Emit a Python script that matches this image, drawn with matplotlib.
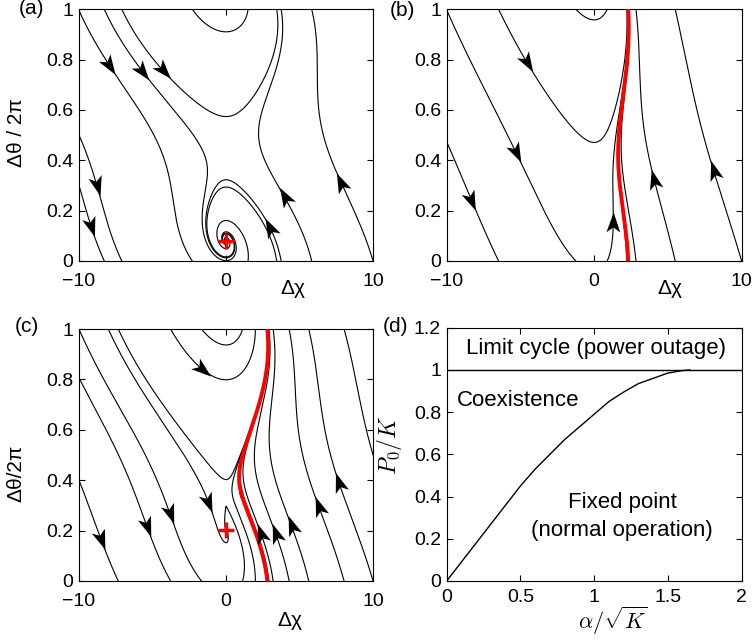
import math
import numpy as np
import matplotlib
matplotlib.use("Agg")
import matplotlib.pyplot as plt
from matplotlib.markers import MarkerStyle
from matplotlib.path import Path
from matplotlib.transforms import Affine2D
from matplotlib.ticker import FuncFormatter

plt.rcParams['font.family'] = ['Liberation Sans', 'DejaVu Sans']
plt.rcParams['mathtext.fontset'] = 'cm'

# swing equation  d(theta)/dt = chi,  d(chi)/dt = P - alpha*chi - K*sin(theta)
power = 2.0
damping = 1.0
coupling_a = 4.15
coupling_b = 0.8
coupling_c = 2.1

# starting points of the plotted trajectories (chi, theta/2pi, backward time)
starts_a = [(-10, 0.995, 0), (-10, 0.5, 0), (-10, 0.3, 0), (10, 0.0, 0)]
starts_b = [(-10, 0.997, 0), (-10, 0.474, 0), (10, 0.0, 0)]
starts_c = [(-10, 0.999, 0), (-10, 0.806, 0), (-10, 0.4, 0), (10, 0.0, 0),
            (10, 0.5, 0), (-1.21, 0.315, 5.0)]

# arrow positions along the trajectories
arrows_a = [(-7.89, 0.779), (-5.74, 0.752), (-4.27, 0.759), (-8.69, 0.302),
            (-9.25, 0.136), (2.98, 0.13), (4.11, 0.256), (7.96, 0.315)]
arrows_b = [(-4.58, 0.792), (-5.25, 0.434), (-8.42, 0.242), (1.3, 0.15),
            (4.0, 0.322), (8.19, 0.362)]
arrows_c = [(-1.66, 0.837), (-1.21, 0.315), (-3.82, 0.269), (-5.51, 0.216),
            (-8.57, 0.163), (2.52, 0.189), (3.54, 0.189), (4.68, 0.222),
            (6.38, 0.295), (7.85, 0.394)]

# stability diagram: boundary of the coexistence region
alpha_crit = [0, 0.1, 0.2, 0.3, 0.4, 0.5, 0.6, 0.7, 0.8, 0.9, 1.0, 1.1, 1.2,
              1.3, 1.4, 1.5, 1.6, 1.65]
p_crit = [0, 0.09, 0.18, 0.27, 0.36, 0.45, 0.53, 0.60, 0.67, 0.73, 0.79,
          0.85, 0.895, 0.935, 0.96, 0.985, 0.997, 1.0]


def rhs(chi, th, k):
    return power - damping * chi - k * math.sin(th)


def integrate(chi, y, k, t_max=30.0, dt=0.002, stop_out=True, y_top=None):
    th = 2 * math.pi * y
    cs, ts = [chi], [th]
    n = int(abs(t_max) / dt)
    h = dt if t_max > 0 else -dt
    for _ in range(n):
        a1 = rhs(chi, th, k); b1 = chi
        a2 = rhs(chi + 0.5 * h * a1, th + 0.5 * h * b1, k); b2 = chi + 0.5 * h * a1
        a3 = rhs(chi + 0.5 * h * a2, th + 0.5 * h * b2, k); b3 = chi + 0.5 * h * a2
        a4 = rhs(chi + h * a3, th + h * b3, k); b4 = chi + h * a3
        chi += h * (a1 + 2 * a2 + 2 * a3 + a4) / 6
        th += h * (b1 + 2 * b2 + 2 * b3 + b4) / 6
        if y_top is not None and th / (2 * math.pi) >= y_top:
            # stop exactly on the upper edge
            s = (2 * math.pi * y_top - ts[-1]) / (th - ts[-1])
            cs.append(cs[-1] + s * (chi - cs[-1])); ts.append(2 * math.pi * y_top)
            break
        cs.append(chi); ts.append(th)
        if stop_out and abs(chi) > 10.05:
            break
    return np.array(cs), np.array(ts) / (2 * math.pi)


def wrap(cs, ys):
    # fold theta onto [0, 1) and cut the line where it wraps around
    out_c, out_y = [cs[0]], [ys[0] - math.floor(ys[0])]
    for i in range(1, len(cs)):
        f0, f1 = math.floor(ys[i - 1]), math.floor(ys[i])
        if f0 != f1:
            lvl = max(f0, f1)
            s = (lvl - ys[i - 1]) / (ys[i] - ys[i - 1])
            cc = cs[i - 1] + s * (cs[i] - cs[i - 1])
            up = f1 > f0
            out_c += [cc, np.nan, cc]
            out_y += [1.0 if up else 0.0, np.nan, 0.0 if up else 1.0]
        out_c.append(cs[i]); out_y.append(ys[i] - f1)
    return np.array(out_c), np.array(out_y)


def trajectory(c0, y0, back, k):
    cs, ys = integrate(c0, y0, k)
    if back > 0:
        bc, by = integrate(c0, y0, k, t_max=-back, y_top=0.9999)
        cs = np.concatenate([bc[::-1], cs[1:]])
        ys = np.concatenate([by[::-1], ys[1:]])
    return wrap(cs, ys)


def limit_cycle(k):
    cs, ys = integrate(2.5, 0.0, k, t_max=60.0, stop_out=False)
    c0, y0 = cs[-1], ys[-1] - math.floor(ys[-1])
    cs, ys = integrate(c0, y0, k, t_max=8.0, stop_out=False)
    keep = ys <= y0 + 1.0 + 1e-3
    return wrap(cs[keep], ys[keep])


stealth = Path([(1.0, 0.0), (-0.8, 0.62), (-0.35, 0.0), (-0.8, -0.62), (1.0, 0.0)],
               [Path.MOVETO, Path.LINETO, Path.LINETO, Path.LINETO, Path.CLOSEPOLY])


def draw_arrows(ax, lines, spots):
    to_px = ax.transData.transform
    pts = [to_px(np.column_stack([c, y])) for c, y in lines]
    for sx, sy in spots:
        p = to_px((sx, sy))
        best = None
        for j, q in enumerate(pts):
            d = np.sum((q - p) ** 2, axis=1)
            d[np.isnan(d)] = np.inf
            i = int(np.argmin(d))
            if best is None or d[i] < best[0]:
                best = (d[i], j, i)
        _, j, i = best
        q = pts[j]
        i = min(max(i, 3), len(q) - 4)
        v = q[i + 3] - q[i - 3]
        if np.any(np.isnan(v)):
            v = q[i + 1] - q[i]
        ang = math.degrees(math.atan2(v[1], v[0]))
        xy = ax.transData.inverted().transform(q[i])
        m = MarkerStyle(stealth, transform=Affine2D().rotate_deg(ang))
        ax.plot(xy[0], xy[1], marker=m, ms=16, color='k', mew=0, zorder=4)


minus = FuncFormatter(lambda v, _: ('%g' % v).replace('-', '\u2212'))


def style(ax, xlim, ylim, xticks, yticks, xpad=9):
    ax.set_xlim(*xlim)
    ax.set_ylim(*ylim)
    ax.set_xticks(xticks)
    ax.set_yticks(yticks)
    ax.xaxis.set_major_formatter(minus)
    ax.yaxis.set_major_formatter(minus)
    ax.tick_params(direction='in', top=True, right=True, length=4,
                   labelsize=14, pad=4)
    ax.tick_params(axis='x', pad=xpad)
    for s in ax.spines.values():
        s.set_linewidth(0.8)


fig = plt.figure(figsize=(7.54, 6.40), dpi=100)
ax_a = fig.add_axes([0.1048, 0.5922, 0.3900, 0.3933])
ax_b = fig.add_axes([0.5924, 0.5922, 0.3912, 0.3933])
ax_c = fig.add_axes([0.1048, 0.0922, 0.3900, 0.3937])
ax_d = fig.add_axes([0.5924, 0.0922, 0.3912, 0.3958])

panels = [(ax_a, coupling_a, starts_a, arrows_a, False),
          (ax_b, coupling_b, starts_b, arrows_b, True),
          (ax_c, coupling_c, starts_c, arrows_c, True)]

for ax, k, starts, spots, has_cycle in panels:
    style(ax, (-10, 10), (0, 1), [-10, 0, 10], [0, 0.2, 0.4, 0.6, 0.8, 1])
    lines = []
    for c0, y0, back in starts:
        c, y = trajectory(c0, y0, back, k)
        lines.append((c, y))
        ax.plot(c, y, color='k', lw=0.8, zorder=2)
    draw_arrows(ax, lines, spots)
    if has_cycle:
        c, y = limit_cycle(k)
        ax.plot(c, y, color='#ff0000', lw=2.8, zorder=3)
    if k > power:
        y_fix = math.asin(power / k) / (2 * math.pi)
        ax.plot(0, y_fix, marker='+', ms=11, mew=2.5, color='#ff0000', zorder=5)

ax_a.text(0.728, -0.111, '\u0394\u03c7', transform=ax_a.transAxes, fontsize=15,
          ha='center', va='center')
ax_b.text(0.757, -0.111, '\u0394\u03c7', transform=ax_b.transAxes, fontsize=15,
          ha='center', va='center')
ax_c.text(0.718, -0.155, '\u0394\u03c7', transform=ax_c.transAxes, fontsize=15,
          ha='center', va='center')
fig.text(16 / 754, 1 - 133 / 640, '\u0394\u03b8 / 2\u03c0', fontsize=15,
         rotation=90, ha='center', va='center')
fig.text(16 / 754, 1 - 473 / 640, '\u0394\u03b8/2\u03c0', fontsize=15,
         rotation=90, ha='center', va='center')

# stability diagram
style(ax_d, (0, 2), (0, 1.2), [0, 0.5, 1, 1.5, 2], [0, 0.2, 0.4, 0.6, 0.8, 1, 1.2],
      xpad=6)
ax_d.plot(alpha_crit, p_crit, color='k', lw=1.0)
ax_d.axhline(1.0, color='k', lw=1.0)
ax_d.text(1.01, 1.1, 'Limit cycle (power outage)', fontsize=16, ha='center', va='center')
ax_d.text(0.07, 0.855, 'Coexistence', fontsize=16, ha='left', va='center')
ax_d.text(1.19, 0.37, 'Fixed point', fontsize=16, ha='center', va='center')
ax_d.text(1.19, 0.24, '(normal operation)', fontsize=16, ha='center', va='center')
fig.text(613 / 754, 1 - 621 / 640, r'$\alpha/\sqrt{K}$', fontsize=16,
         ha='center', va='center')
fig.text(390 / 754, 1 - 445 / 640, r'$P_0/K$', fontsize=17, rotation=90,
         ha='center', va='center')

fig.text(31 / 754, 1 - 9 / 640, '(a)', fontsize=15, ha='center', va='center')
fig.text(402 / 754, 1 - 10 / 640, '(b)', fontsize=15, ha='center', va='center')
fig.text(27 / 754, 1 - 327 / 640, '(c)', fontsize=15, ha='center', va='center')
fig.text(408 / 754, 1 - 327 / 640, '(d)', fontsize=15, ha='right', va='center')

fig.savefig('out.png', dpi=100)
